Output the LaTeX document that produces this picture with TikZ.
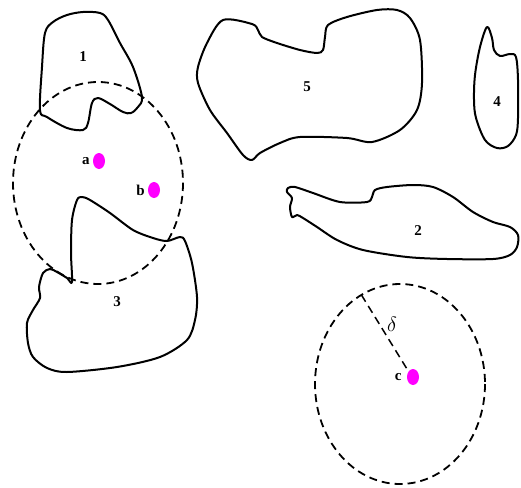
\documentclass[tikz,border=0pt]{standalone}
\usepackage{fontspec}
\setmainfont{Liberation Serif}
\usetikzlibrary{positioning, calc}
\definecolor{dotpink}{RGB}{255,0,255}

\begin{document}
\begin{tikzpicture}[x=1pt,y=-1pt,
    region/.style={line width=2pt, line join=round},
    ball/.style={line width=1.8pt, dash pattern=on 8pt off 5pt},
    tag/.style={font=\fontsize{15}{18}\selectfont\bfseries, inner sep=0pt},
    spot/.style={circle, minimum size=0pt, inner sep=0pt}]
  \useasboundingbox (0,0) rectangle (521,487);
  % regions
  \draw[region] plot[smooth cycle, tension=0.55] coordinates {
    (40,110) (42,67) (45,33) (53,22) (67,15) (83,12) (100,13) (108,20)
    (120,43) (133,67) (142,97) (138,107) (131,113) (123,112) (110,104)
    (98,98) (92,103) (88,123) (83,130) (67,128) (47,117)};
  \draw[region] plot[smooth cycle, tension=0.5] coordinates {
    (72,282) (71,253) (72,220) (77,200) (82,197) (90,200) (110,213)
    (133,230) (153,238) (167,241) (180,237) (185,241) (192,263) (197,297)
    (195,320) (187,340) (160,357) (117,367) (67,372) (47,368) (33,357)
    (28,343) (27,323) (33,310) (40,298) (39,287) (43,273) (50,269)
    (57,272) (67,278)};
  \draw[region] plot[smooth cycle, tension=0.5] coordinates {
    (223,20) (252,24) (258,30) (262,37) (277,43) (300,50) (317,53)
    (323,50) (325,37) (328,25) (347,17) (377,10) (397,10) (410,18)
    (420,40) (422,83) (417,110) (400,130) (372,142) (347,138) (300,137)
    (280,143) (260,153) (252,160) (243,155) (227,133) (210,110) (198,83)
    (198,67) (207,43)};
  \draw[region] plot[smooth cycle, tension=0.55] coordinates {
    (487,27) (492,38) (494,50) (500,56) (510,54) (516,57) (518,80)
    (518,118) (516,135) (508,146) (497,148) (485,140) (476,118) (474,100)
    (475,75) (480,47)};
  \draw[region] plot[smooth cycle, tension=0.5] coordinates {
    (288,188) (295,187) (313,193) (340,202) (367,202) (372,197) (375,190)
    (387,187) (413,185) (433,187) (453,197) (473,212) (493,222) (510,227)
    (518,235) (517,247) (510,255) (493,259) (447,259) (407,257) (363,250)
    (337,240) (317,227) (303,218) (297,215) (292,217) (290,207) (292,198)
    (287,192)};
  \node[tag] (n1) at (83,57) {1};
  \node[tag] (n3) at (117,302) {3};
  \node[tag] (n5) at (307,87) {5};
  \node[tag] (n4) at (497,102) {4};
  \node[tag] (n2) at (418,231) {2};
  % balls
  \draw[ball] (98,183) ellipse [x radius=85, y radius=101];
  \coordinate (cc) at (400,384);
  \draw[ball] (cc) ellipse [x radius=85, y radius=100];
  \fill[dotpink] (99,161) ellipse [x radius=6, y radius=8];
  \node[spot] (pa) at (99,161) {};
  \node[tag, left=9pt of pa] (la) {a};
  \fill[dotpink] (154,190) ellipse [x radius=6, y radius=8];
  \node[spot] (pb) at (154,190) {};
  \node[tag, left=9pt of pb] (lb) {b};
  \fill[dotpink] (413,377) ellipse [x radius=6, y radius=8];
  \node[spot] (pc) at (413,377) {};
  \node[tag, left=11pt of pc] (lc) {c};
  \coordinate (rim) at ($(cc)+(243:85 and 100)$);
  \draw[ball, line width=1.5pt] (rim) -- ($(pc)+(-6,-8)$);
  \node[font=\fontsize{20}{22}\selectfont] (delta) at (392,324) {$\delta$};
\end{tikzpicture}
\end{document}
